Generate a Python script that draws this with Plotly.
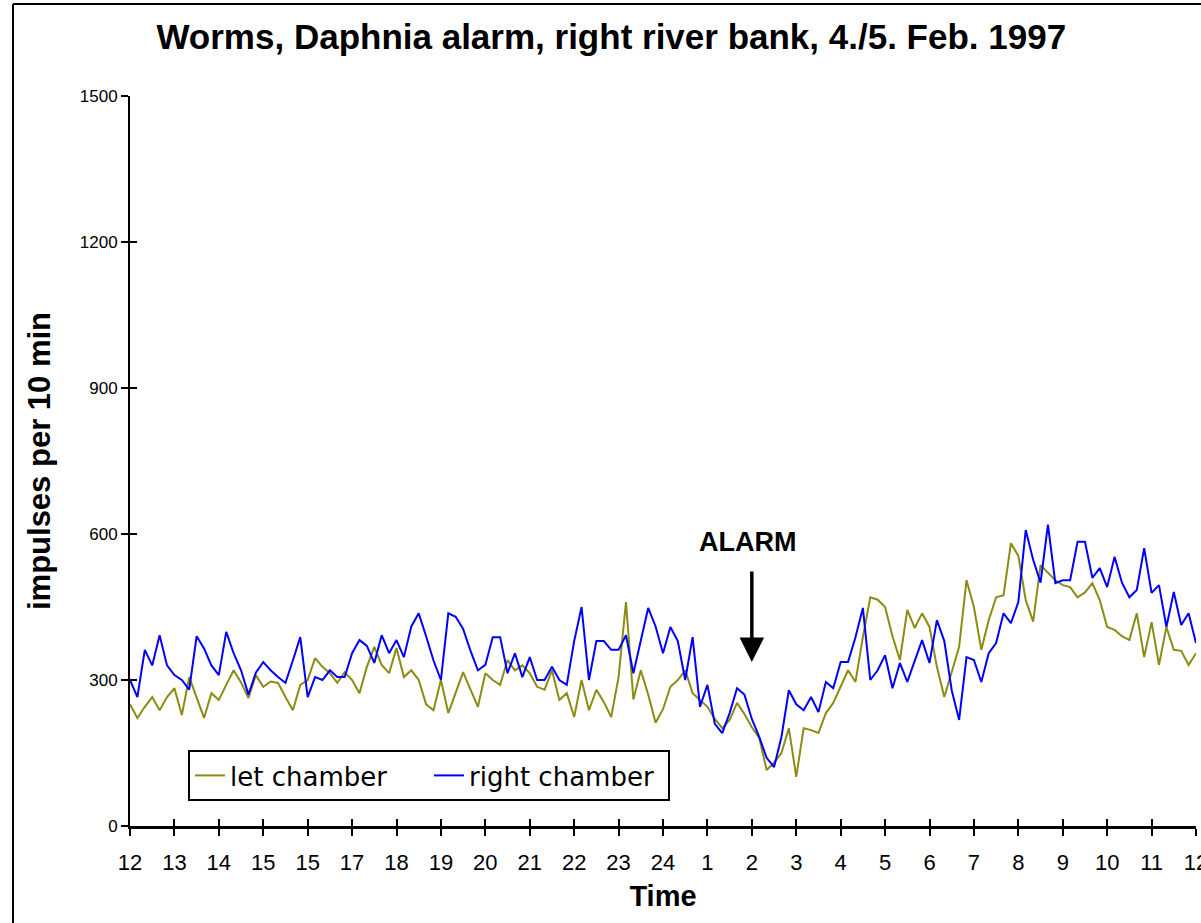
import plotly.graph_objects as go

# ---- data (10-minute samples, 12:00 on 4 Feb to 12:00 on 5 Feb) ----
left_chamber = [
    250, 222, 245, 265, 238, 265, 283, 228, 306, 265, 222, 273, 259, 290, 320, 295, 263, 310, 286,
    297, 294, 265, 238, 290, 300, 345, 327, 314, 294, 316, 300, 273, 327, 368, 331, 314, 366, 306,
    320, 300, 250, 238, 300, 232, 275, 316, 280, 245, 314, 300, 290, 341, 320, 330, 314, 286,
    280, 320, 259, 273, 224, 300, 238, 280, 255, 224, 306, 460, 260, 320, 270, 212, 240, 286,
    300, 320, 273, 260, 245, 220, 201, 218, 253, 230, 203, 181, 115, 130, 150, 201, 101, 201,
    197, 191, 232, 253, 286, 320, 296, 388, 470, 465, 450, 390, 341, 444, 407, 437, 409, 327,
    265, 314, 368, 505, 450, 362, 423, 470, 474, 581, 555, 464, 420, 536, 520, 505, 495,
    491, 470, 480, 499, 464, 409, 403, 390, 382, 437, 347, 419, 331, 409, 362, 360, 331, 355,
]
right_chamber = [
    300, 265, 362, 330, 392, 330, 310, 300, 280, 390, 365, 330, 310, 399, 355, 320, 270, 315, 337,
    320, 306, 294, 340, 388, 265, 306, 300, 320, 306, 306, 355, 382, 370, 335, 392, 355, 382, 347,
    410, 437, 390, 340, 300, 437, 430, 405, 360, 320, 331, 388, 388, 314, 355, 306, 347, 300,
    300, 327, 300, 290, 380, 450, 300, 380, 380, 362, 362, 392, 314, 380, 448, 410, 355, 409,
    380, 300, 388, 245, 290, 210, 191, 232, 283, 270, 220, 183, 140, 121, 183, 279, 250, 238,
    265, 234, 296, 283, 337, 337, 388, 448, 300, 320, 351, 283, 335, 296, 340, 382, 335, 423,
    380, 279, 218, 347, 341, 296, 355, 376, 437, 417, 460, 608, 547, 500, 619, 499, 505,
    505, 584, 584, 510, 530, 491, 553, 500, 470, 485, 571, 479, 495, 409, 481, 413, 437, 376,
]
hour_labels = ["12", "13", "14", "15", "15", "17", "18", "19", "20", "21", "22", "23", "24",
               "1", "2", "3", "4", "5", "6", "7", "8", "9", "10", "11", "12"]
y_ticks = [0, 300, 600, 900, 1200, 1500]
alarm_step = 84  # 2 o'clock, in 10-minute steps
alarm_level = 337

steps = list(range(len(left_chamber)))
tick_steps = [6 * k for k in range(len(hour_labels))]

OLIVE = "#8c8c14"
BLUE = "#0000ff"
NARROW = "Liberation Sans Narrow, Arial Narrow, Liberation Sans, Arial, sans-serif"
ARIAL = "Liberation Sans, Arial, sans-serif"

# plot-area geometry in pixels
L, R, T, B = 130, 5, 96, 97
W, H = 1201, 923
PW, PH = W - L - R, H - T - B

def px_x(px):
    return (px - L) / PW

def px_y(py):
    return (H - B - py) / PH

fig = go.Figure()
fig.add_trace(go.Scatter(x=steps, y=left_chamber, mode="lines", name="let chamber",
                         line=dict(color=OLIVE, width=2)))
fig.add_trace(go.Scatter(x=steps, y=right_chamber, mode="lines", name="right chamber",
                         line=dict(color=BLUE, width=2)))
# invisible trace carrying the overlay axes used for inward tick marks
fig.add_trace(go.Scatter(x=[None], y=[None], xaxis="x2", yaxis="y2", showlegend=False,
                         hoverinfo="skip"))

xr = [0, len(left_chamber) - 1]
yr = [0, 1500]

fig.update_layout(
    width=W, height=H,
    margin=dict(l=L, r=R, t=T, b=B, autoexpand=False),
    paper_bgcolor="white", plot_bgcolor="white",
    title=dict(text="<b>Worms, Daphnia alarm, right river bank, 4./5. Feb. 1997</b>",
               font=dict(family=NARROW, size=35, color="black"),
               x=0.509, xref="container", xanchor="center",
               y=1 - 37 / 923, yref="container", yanchor="middle"),
    xaxis=dict(range=xr, tickmode="array", tickvals=tick_steps, ticktext=hour_labels,
               automargin=False, ticklabeloverflow="allow",
               showgrid=False, zeroline=False, showline=True, linecolor="black", linewidth=2.5,
               ticks="outside", ticklen=7, tickwidth=1.5, tickcolor="black",
               ticklabelstandoff=8,
               tickfont=dict(family=NARROW, size=22, color="black"),
               title=dict(text="<b>Time</b>", font=dict(family=NARROW, size=29, color="black"),
                          standoff=12)),
    yaxis=dict(range=yr, tickmode="array", tickvals=y_ticks, automargin=False,
               showgrid=False, zeroline=False, showline=True, linecolor="black", linewidth=2,
               ticks="outside", ticklen=7, tickwidth=1.5, tickcolor="black",
               tickfont=dict(family=ARIAL, size=17, color="black"),
               title=dict(text="<b>impulses per 10 min</b>",
                          font=dict(family=NARROW, size=31, color="black"), standoff=20)),
    xaxis2=dict(range=xr, overlaying="x", anchor="y", side="bottom", tickmode="array",
                tickvals=tick_steps, showticklabels=False, showgrid=False, zeroline=False,
                automargin=False,
                showline=False, ticks="inside", ticklen=7, tickwidth=1.5, tickcolor="black"),
    yaxis2=dict(range=yr, overlaying="y", anchor="x", side="left", tickmode="array",
                tickvals=y_ticks, showticklabels=False, showgrid=False, zeroline=False,
                automargin=False,
                showline=False, ticks="inside", ticklen=7, tickwidth=1.5, tickcolor="black"),
    legend=dict(orientation="h", x=px_x(188), y=px_y(750),
                xanchor="left", yanchor="top", bgcolor="white", bordercolor="black",
                borderwidth=2, font=dict(family="DejaVu Sans, sans-serif", size=26, color="black"),
                itemwidth=30, entrywidth=194, entrywidthmode="pixels",
                tracegroupgap=0, valign="middle"),
    showlegend=True,
)

# ALARM marker
fig.add_annotation(x=alarm_step, y=alarm_level, ax=0, ay=-92, xref="x", yref="y",
                   text="", showarrow=True, arrowhead=2, arrowsize=1.4, arrowwidth=3.5,
                   arrowcolor="black")
fig.add_annotation(x=alarm_step, y=alarm_level, xref="x", yref="y", yshift=120, xshift=-4,
                   text="<b>ALARM</b>", showarrow=False,
                   font=dict(family=ARIAL, size=27, color="black"))

# outer chart frame: left and top edges
fig.add_shape(type="line", xref="paper", yref="paper",
              x0=px_x(13), x1=px_x(13), y0=px_y(H + 5), y1=px_y(4),
              line=dict(color="black", width=2))
fig.add_shape(type="line", xref="paper", yref="paper",
              x0=px_x(13), x1=px_x(W + 5), y0=px_y(4), y1=px_y(4),
              line=dict(color="black", width=2))

fig.write_html("out.html", config={"displayModeBar": False},
               post_script="document.body.style.margin='0';"
               "document.body.style.overflow='hidden';")
